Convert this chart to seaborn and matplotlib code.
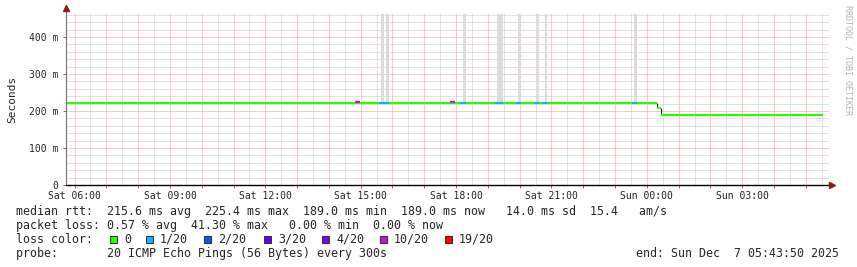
import numpy as np
import pandas as pd
import matplotlib
matplotlib.use("Agg")
import matplotlib.pyplot as plt
from matplotlib.patches import Rectangle
import seaborn as sns

# ---------------- data (time = hours since Sat 00:00, Sun = 24+) ----------------
t_start = 5 + 43 / 60 + 50 / 3600          # Sat 05:43:50
t_end = t_start + 24                        # Sun 05:43:50

level_start = [5.7306, 24.32, 24.44]
level_end = [24.32, 24.44, 29.54]
level_rtt = [0.222, 0.207, 0.189]           # seconds

loss_start = [14.82, 15.58, 17.81, 18.12, 19.23, 19.89, 20.45, 20.70, 23.53]
loss_end = [14.98, 15.89, 17.97, 18.31, 19.48, 20.04, 20.61, 20.86, 23.69]
loss_class = ["10/20", "1/20", "10/20", "1/20", "1/20", "1/20", "1/20", "1/20", "1/20"]
loss_rtt = [0.2254, 0.222, 0.2254, 0.222, 0.222, 0.222, 0.222, 0.222, 0.222]

smoke_start = [15.64, 15.80, 18.22, 19.29, 19.95, 20.55, 20.80, 23.60]
smoke_end = [15.73, 15.89, 18.31, 19.48, 20.04, 20.61, 20.86, 23.69]
smoke_low = [0.222, 0.222, 0.222, 0.222, 0.222, 0.222, 0.222, 0.222]
smoke_high = [0.50, 0.50, 0.50, 0.50, 0.50, 0.50, 0.50, 0.50]

loss_labels = ["0", "1/20", "2/20", "3/20", "4/20", "10/20", "19/20"]
loss_colors = ["#26ff00", "#00b8ff", "#0059ff", "#5e00ff", "#7e00ff", "#dd00ff", "#ff0000"]

y_ticks = [0.0, 0.1, 0.2, 0.3, 0.4]
y_ticklabels = ["0", "100 m", "200 m", "300 m", "400 m"]
x_label_hours = [6, 9, 12, 15, 18, 21, 24, 27]
x_ticklabels = ["Sat 06:00", "Sat 09:00", "Sat 12:00", "Sat 15:00",
                "Sat 18:00", "Sat 21:00", "Sun 00:00", "Sun 03:00"]

legend_rtt = "median rtt:  215.6 ms avg  225.4 ms max  189.0 ms min  189.0 ms now   14.0 ms sd  15.4   am/s"
legend_loss = "packet loss: 0.57 % avg  41.30 % max   0.00 % min  0.00 % now"
legend_probe = "probe:       20 ICMP Echo Pings (56 Bytes) every 300s"
legend_end = "end: Sun Dec  7 05:43:50 2025"

# ---------------- build long table of line segments ----------------
rows = []
seg = 0
for s, e, v in zip(level_start, level_end, level_rtt):
    rows += [dict(seg=seg, t=s, rtt=v, loss="0"), dict(seg=seg, t=e, rtt=v, loss="0")]
    seg += 1
for s, e, v, c in zip(loss_start, loss_end, loss_rtt, loss_class):
    rows += [dict(seg=seg, t=s, rtt=v, loss=c), dict(seg=seg, t=e, rtt=v, loss=c)]
    seg += 1
df = pd.DataFrame(rows)
palette = dict(zip(loss_labels, loss_colors))
present = [l for l in loss_labels if l in set(df["loss"])]

# ---------------- figure ----------------
sns.set_style("white")
plt.rcParams["font.family"] = ["DejaVu Sans Mono", "DejaVu Sans"]

W, H = 857, 267
fig = plt.figure(figsize=(W / 100, H / 100), dpi=100)
x0, x1, ytop, ybot = 66, 829, 14, 185
ax = fig.add_axes([x0 / W, 1 - ybot / H, (x1 - x0) / W, (ybot - ytop) / H])
ax.set_facecolor("white")

ax.set_xlim(t_start, t_end)
ax.set_ylim(0, 0.462)

# grid (dotted)
major_c, minor_c = "#eb9a9a", "#c4c4c4"
gkw = dict(lw=0.72, ls=(0, (1, 1)))
for h in np.arange(6.5, 29.6, 1.0):
    ax.axvline(h, color=minor_c, zorder=0, **gkw)
for yv in np.arange(0.02, 0.462, 0.02):
    if abs(yv * 10 - round(yv * 10)) > 1e-6:
        ax.axhline(yv, color=minor_c, zorder=0, **gkw)
for h in range(6, 30):
    ax.axvline(h, color=major_c, zorder=0.5, **gkw)
for yv in y_ticks[1:]:
    ax.axhline(yv, color=major_c, zorder=0.5, **gkw)

# smoke
ax.bar(smoke_start, np.array(smoke_high) - np.array(smoke_low), bottom=smoke_low,
       width=np.array(smoke_end) - np.array(smoke_start), align="edge",
       color="#dcdcdc", edgecolor="none", zorder=1)

# vertical connectors between median levels
for i in range(1, len(level_start)):
    ax.vlines(level_start[i], level_rtt[i], level_rtt[i - 1], color="#202020", lw=0.8, zorder=2)

# median line coloured by loss
sns.lineplot(data=df, x="t", y="rtt", hue="loss", units="seg", estimator=None,
             hue_order=present, palette=palette, linewidth=1.5, legend=False,
             sort=False, ax=ax, zorder=3)
for ln in ax.lines:
    if ln.get_linewidth() == 1.5:
        ln.set_solid_capstyle("butt")

ax.set_xlabel("")
ax.set_ylabel("")

# ticks
ax.set_xticks(list(range(6, 30)))
ax.set_xticklabels([x_ticklabels[x_label_hours.index(h)] if h in x_label_hours else ""
                    for h in range(6, 30)])
ax.set_yticks(y_ticks)
ax.set_yticklabels(y_ticklabels)
ax.tick_params(axis="both", which="major", labelsize=7, length=2, width=0.7,
               color="#c05050", pad=2.5, bottom=True, left=True)
ax.tick_params(axis="y", pad=3.5)

# spines
for s in ["top", "right", "left", "bottom"]:
    ax.spines[s].set_visible(False)
ax.plot([0, 0], [0, 1.035], transform=ax.transAxes, color="#707070", lw=0.8,
        clip_on=False, zorder=5)
ax.plot([0, 1.004], [0, 0], transform=ax.transAxes, color="black", lw=1.0,
        clip_on=False, zorder=5)
ax.plot([0], [1.035], marker="^", markersize=4, color="#8b1a1a",
        transform=ax.transAxes, clip_on=False, zorder=6)
ax.plot([1.004], [0], marker=">", markersize=4, color="#8b1a1a",
        transform=ax.transAxes, clip_on=False, zorder=6)

# y label and watermark
fig.text(12 / W, 1 - 99.5 / H, "Seconds", rotation=90, ha="center", va="center",
         fontsize=8)
fig.text(848 / W, 1 - 5 / H, "RRDTOOL / TOBI OETIKER", rotation=270, ha="center",
         va="top", fontsize=6, color="#b4b4b4")

# legend text
fs = 8.4
fig.text(16 / W, 1 - 211.5 / H, legend_rtt, fontsize=fs, va="center", ha="left")
fig.text(16 / W, 1 - 225.5 / H, legend_loss, fontsize=fs, va="center", ha="left")
fig.text(16 / W, 1 - 239.5 / H, "loss color:", fontsize=fs, va="center", ha="left")
box_x = [110, 146, 204, 264, 322, 380, 445]
for bx, lab, col in zip(box_x, loss_labels, loss_colors):
    fig.patches.append(Rectangle((bx / W, 1 - 243 / H), 7 / W, 7 / H,
                                 transform=fig.transFigure, facecolor=col,
                                 edgecolor="#303030", lw=0.7))
    fig.text((bx + 14) / W, 1 - 239.5 / H, lab, fontsize=fs, va="center", ha="left")
fig.text(16 / W, 1 - 253.5 / H, legend_probe, fontsize=fs, va="center", ha="left")
fig.text(839 / W, 1 - 253.5 / H, legend_end, fontsize=fs, va="center", ha="right")

fig.savefig("out.png", dpi=100, facecolor="white")
